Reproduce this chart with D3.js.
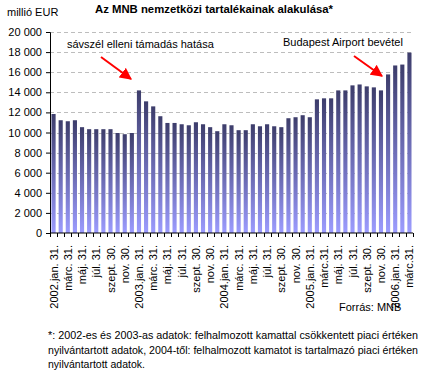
<!DOCTYPE html>
<html>
<head>
<meta charset="utf-8">
<script src="https://cdn.jsdelivr.net/npm/d3@7"></script>
<style>
  body { margin: 0; background: #fff; }
  svg { font-family: Arial, "Liberation Sans", sans-serif; }
</style>
</head>
<body>
<div id="chart"></div>
<script>
// monthly reserves, million EUR, 2002 jan - 2006 march
let values = [
    11840, 11220, 11120, 11220, 10530, 10330, 10330, 10330, 10330, 9950, 9830, 9950,
    14190, 13100, 12600, 11620, 10950, 10950, 10820, 10720, 11020, 10820, 10530, 10130,
    10820, 10720, 10230, 10230, 10820, 10620, 10820, 10620, 10530, 11420, 11520, 11720,
    11520, 13300, 13400, 13400, 14190, 14190, 14690, 14780, 14590, 14490, 14190, 15780,
    16670, 16760, 17950
];

// tick labels shown every second month
let xLabels = [
    '2002.jan. 31.', 'márc. 31.', 'máj. 31.', 'júl. 31.', 'szept. 30.', 'nov. 30.',
    '2003.jan. 31.', 'márc. 31.', 'máj. 31.', 'júl. 31.', 'szept. 30.', 'nov. 30.',
    '2004.jan. 31.', 'márc. 31.', 'máj. 31.', 'júl. 31.', 'szept. 30.', 'nov. 30.',
    '2005.jan. 31.', 'márc.31.', 'máj. 31.', 'júl. 31.', 'szept. 30.', 'nov. 30.',
    '2006.jan. 31.', 'márc.31.'
];

let yTicks = [0, 2000, 4000, 6000, 8000, 10000, 12000, 14000, 16000, 18000, 20000];

let categories = values.map((v, i) => i);

let width = 431, height = 377;
let margin = {left: 50, right: 18, top: 32, bottom: 144};

let svg = d3.select('#chart')
    .append('svg')
    .attr('width', width)
    .attr('height', height);

let defs = svg.append('defs');
let grad = defs.append('linearGradient')
    .attr('id', 'barGrad')
    .attr('x1', 0).attr('y1', 0).attr('x2', 0).attr('y2', 1);
grad.append('stop').attr('offset', '0%').attr('stop-color', '#3d3d6b');
grad.append('stop').attr('offset', '100%').attr('stop-color', '#9c9cff');

let x = d3.scaleBand()
    .domain(categories)
    .range([margin.left, width - margin.right])
    .paddingInner(0.42)
    .paddingOuter(0.21);

let y = d3.scaleLinear()
    .domain([0, 20000])
    .range([height - margin.bottom, margin.top]);

let fmt = d => d3.format(',')(d).replace(',', ' ');

// gridlines
svg.append('g')
    .selectAll('line')
    .data(yTicks.filter(d => d > 0))
    .join('line')
    .attr('x1', margin.left)
    .attr('x2', width - margin.right)
    .attr('y1', d => Math.round(y(d)) + 0.5)
    .attr('y2', d => Math.round(y(d)) + 0.5)
    .attr('stroke', '#bdbdbd')
    .attr('stroke-dasharray', '4,3');

// bars
svg.append('g')
    .selectAll('rect')
    .data(values)
    .join('rect')
    .attr('x', (d, i) => x(i))
    .attr('y', d => y(d))
    .attr('width', x.bandwidth())
    .attr('height', d => y(0) - y(d))
    .attr('fill', 'url(#barGrad)');

// y axis
let yAxis = svg.append('g')
    .attr('transform', `translate(${margin.left},0)`)
    .call(d3.axisLeft(y).tickValues(yTicks).tickFormat(fmt).tickSize(4).tickPadding(4));
yAxis.select('.domain').attr('stroke', '#000');
yAxis.selectAll('text').attr('font-size', 11).attr('fill', '#000');

// x axis: tick marks between categories
let boundaries = d3.range(values.length + 1).map(i => margin.left + i * (width - margin.right - margin.left) / values.length);
let xg = svg.append('g');
xg.append('line')
    .attr('x1', margin.left).attr('x2', width - margin.right)
    .attr('y1', y(0)).attr('y2', y(0))
    .attr('stroke', '#000');
xg.selectAll('line.tick')
    .data(boundaries)
    .join('line')
    .attr('class', 'tick')
    .attr('x1', d => Math.round(d) + 0.5).attr('x2', d => Math.round(d) + 0.5)
    .attr('y1', y(0)).attr('y2', y(0) + 4)
    .attr('stroke', '#000');

xg.selectAll('text')
    .data(xLabels)
    .join('text')
    .attr('transform', (d, i) => `translate(${x(i * 2) + x.bandwidth() / 2 + 4},${y(0) + 12}) rotate(-90)`)
    .attr('text-anchor', 'end')
    .attr('font-size', 11)
    .text(d => d);

// title and unit
svg.append('text')
    .attr('x', 214).attr('y', 13)
    .attr('text-anchor', 'middle')
    .attr('font-weight', 'bold')
    .attr('font-size', 11)
    .attr('textLength', 238)
    .attr('lengthAdjust', 'spacingAndGlyphs')
    .text('Az MNB nemzetközi tartalékainak alakulása*');

svg.append('text')
    .attr('x', 7).attr('y', 16)
    .attr('font-size', 11)
    .text('millió EUR');

// annotations
svg.append('text')
    .attr('x', 67).attr('y', 48)
    .attr('font-size', 11)
    .text('sávszél elleni támadás hatása');

svg.append('text')
    .attr('x', 283).attr('y', 46)
    .attr('font-size', 11)
    .text('Budapest Airport bevétel');

defs.append('marker')
    .attr('id', 'arrow')
    .attr('viewBox', '0 0 10 10')
    .attr('refX', 9).attr('refY', 5)
    .attr('markerWidth', 6).attr('markerHeight', 6)
    .attr('markerUnits', 'strokeWidth')
    .attr('orient', 'auto')
    .append('path')
    .attr('d', 'M0,0 L10,5 L0,10 z')
    .attr('fill', '#ff0000');

let arrows = [
    {from: [101, 57], to: [131, 79]},
    {from: [354, 56], to: [382, 76]}
];
svg.append('g')
    .selectAll('line')
    .data(arrows)
    .join('line')
    .attr('x1', d => d.from[0]).attr('y1', d => d.from[1])
    .attr('x2', d => d.to[0]).attr('y2', d => d.to[1])
    .attr('stroke', '#ff0000')
    .attr('stroke-width', 2)
    .attr('marker-end', 'url(#arrow)');

// source
svg.append('text')
    .attr('x', 339).attr('y', 311)
    .attr('font-size', 11)
    .text('Forrás: MNB');

// footnote
let footnote = [
    '*: 2002-es és 2003-as adatok: felhalmozott kamattal csökkentett piaci értéken',
    'nyilvántartott adatok, 2004-től: felhalmozott kamatot is tartalmazó piaci értéken',
    'nyilvántartott adatok.'
];
svg.append('g')
    .selectAll('text')
    .data(footnote)
    .join('text')
    .attr('x', 48)
    .attr('y', (d, i) => 339 + i * 14.5)
    .attr('font-size', 10.5)
    .attr('textLength', (d, i) => i < 2 ? 370 : null)
    .attr('lengthAdjust', 'spacingAndGlyphs')
    .text(d => d);
</script>
</body>
</html>
